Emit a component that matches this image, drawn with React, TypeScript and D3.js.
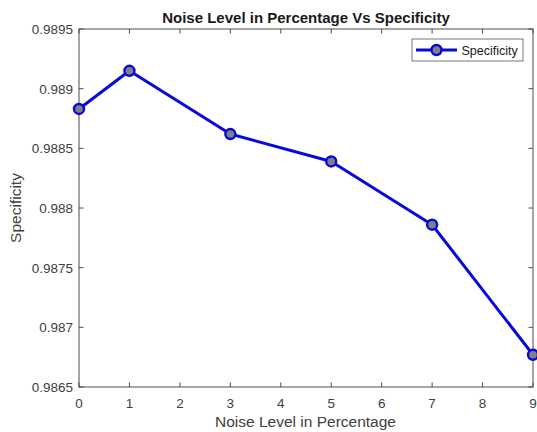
import React from "react";
import * as d3 from "d3";

const noiseLevels = [0, 1, 3, 5, 7, 9];
const specificity = [0.98883, 0.98915, 0.98862, 0.98839, 0.98786, 0.98677];
const xTicks = [0, 1, 2, 3, 4, 5, 6, 7, 8, 9];
const yTicks = [0.9865, 0.987, 0.9875, 0.988, 0.9885, 0.989, 0.9895];
const yTickLabels = ["0.9865", "0.987", "0.9875", "0.988", "0.9885", "0.989", "0.9895"];

const W = 537, H = 432;
const L = 79, R = 533, T = 29, B = 387;
const font = "'Liberation Sans', Arial, Helvetica, sans-serif";
const axisColor = "#4d4d4d";
const textColor = "#404040";
const blue = "#0808dc";

export default function App() {
  const x = d3.scaleLinear().domain([0, 9]).range([L, R]);
  const y = d3.scaleLinear().domain([0.9865, 0.9895]).range([B, T]);
  const line = d3.line<number>().x((_, i) => x(noiseLevels[i])).y((d) => y(d));
  const tl = 4.5;
  return (
    <svg width={W} height={H} style={{ position: "absolute", left: 0, top: 0, background: "#fff" }} fontFamily={font}>
      <rect x={0} y={0} width={W} height={H} fill="#fff" />
      <rect x={L} y={T} width={R - L} height={B - T} fill="#fff" stroke={axisColor} strokeWidth={1} />
      {xTicks.map((t) => (
        <g key={"x" + t}>
          <line x1={x(t)} x2={x(t)} y1={B} y2={B - tl} stroke={axisColor} />
          <line x1={x(t)} x2={x(t)} y1={T} y2={T + tl} stroke={axisColor} />
          <text x={x(t)} y={B + 21} textAnchor="middle" fontSize={13.5} fill={textColor}>{t}</text>
        </g>
      ))}
      {yTicks.map((t, i) => (
        <g key={"y" + t}>
          <line x1={L} x2={L + tl} y1={y(t)} y2={y(t)} stroke={axisColor} />
          <line x1={R} x2={R - tl} y1={y(t)} y2={y(t)} stroke={axisColor} />
          <text x={L - 6} y={y(t) + 5} textAnchor="end" fontSize={13.5} fill={textColor}>{yTickLabels[i]}</text>
        </g>
      ))}
      <path d={line(specificity) || ""} fill="none" stroke={blue} strokeWidth={3} strokeLinejoin="round" />
      {specificity.map((v, i) => (
        <circle key={i} cx={x(noiseLevels[i])} cy={y(v)} r={5} fill="#808080" stroke={blue} strokeWidth={2.4} />
      ))}
      <text x={(L + R) / 2} y={23} textAnchor="middle" fontSize={15} fontWeight="bold" fill="#1a1a1a">
        Noise Level in Percentage Vs Specificity
      </text>
      <text x={(L + R) / 2 - 0.5} y={427} textAnchor="middle" fontSize={15.5} fill={textColor}>
        Noise Level in Percentage
      </text>
      <text transform={`translate(21, ${(T + B) / 2}) rotate(-90)`} textAnchor="middle" fontSize={15.5} fill={textColor}>
        Specificity
      </text>
      <g>
        <rect x={412} y={39} width={111} height={22} fill="#fff" stroke="#555" strokeWidth={0.8} />
        <line x1={416} x2={457} y1={50} y2={50} stroke={blue} strokeWidth={3} />
        <circle cx={436.5} cy={50} r={5} fill="#808080" stroke={blue} strokeWidth={2.4} />
        <text x={461.5} y={54.5} fontSize={12.5} fill="#1a1a1a">Specificity</text>
      </g>
    </svg>
  );
}
